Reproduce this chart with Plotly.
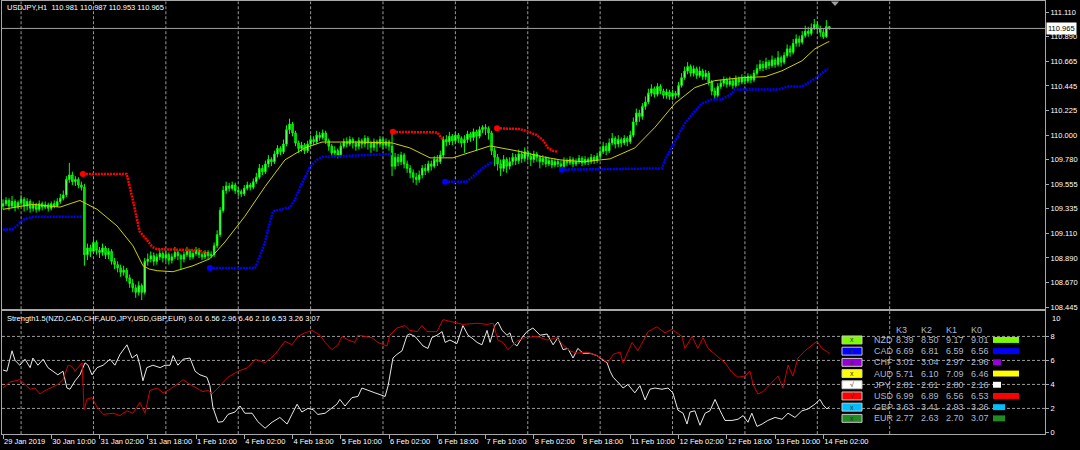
import plotly.graph_objects as go

W, H = 1080, 450
FONT = "Liberation Sans"

# ---------------- price data (H1 bars, index 0 = 29 Jan 2019 18:00) ----------------
symbol_label = "USDJPY,H1"
first_open = 109.36
closes = [
    109.38, 109.41, 109.36, 109.40, 109.35, 109.39, 109.42, 109.36, 109.40, 109.34,
    109.37, 109.33, 109.38, 109.35, 109.37, 109.34, 109.38, 109.36, 109.40, 109.43,
    109.46, 109.60, 109.64, 109.58, 109.60, 109.55, 109.53, 108.92, 108.98, 108.95,
    109.03, 108.96, 108.94, 108.98, 108.92, 108.95, 108.86, 108.83, 108.80, 108.76,
    108.78, 108.71, 108.66, 108.62, 108.58, 108.64, 108.58, 108.86, 108.88, 108.91,
    108.86, 108.90, 108.93, 108.89, 108.92, 108.87, 108.90, 108.94, 108.91, 108.88,
    108.92, 108.95, 108.90, 108.93, 108.96, 108.92, 108.90, 108.94, 108.91, 108.92,
    109.00, 109.10, 109.32, 109.50, 109.54, 109.52, 109.55, 109.50, 109.49, 109.47,
    109.52, 109.55, 109.53, 109.58, 109.62, 109.70, 109.67, 109.74, 109.78, 109.76,
    109.83, 109.88, 109.85, 109.92, 110.05, 110.10, 110.02, 109.93, 109.88, 109.91,
    109.86, 109.92, 109.96, 109.94, 110.00, 109.98, 110.02, 109.95, 109.90, 109.84,
    109.86, 109.82, 109.90, 109.94, 109.92, 109.96, 109.93, 109.90, 109.95, 109.92,
    109.97, 109.93, 109.89, 109.94, 109.92, 109.96, 109.91, 109.94, 109.90, 109.72,
    109.80, 109.76, 109.82, 109.74, 109.70, 109.66, 109.62, 109.60, 109.64, 109.70,
    109.68, 109.74, 109.72, 109.78, 109.76, 109.82, 109.96, 109.94, 109.99, 109.95,
    110.00, 109.97, 109.93, 109.96, 110.01, 109.98, 110.03, 109.99, 110.05, 110.07,
    110.06, 110.02, 109.86, 109.80, 109.74, 109.70, 109.78, 109.72, 109.76, 109.80,
    109.77, 109.83, 109.79, 109.85, 109.81, 109.78, 109.83, 109.80, 109.76, 109.79,
    109.74, 109.77, 109.73, 109.76, 109.74, 109.72, 109.77, 109.75, 109.78, 109.74,
    109.76, 109.79, 109.75, 109.78, 109.76, 109.80, 109.77, 109.81, 109.85, 109.90,
    109.86, 109.93, 109.97, 109.92, 109.96, 109.93, 109.97, 109.94, 110.00, 110.12,
    110.20, 110.17, 110.26, 110.30, 110.38, 110.42, 110.37, 110.44, 110.40, 110.36,
    110.39, 110.35, 110.38, 110.36, 110.45, 110.52, 110.58, 110.62, 110.56, 110.60,
    110.54, 110.58, 110.53, 110.56, 110.48, 110.40, 110.36, 110.44, 110.47, 110.50,
    110.46, 110.49, 110.45, 110.51, 110.48, 110.52, 110.49, 110.53, 110.50, 110.56,
    110.60, 110.64, 110.61, 110.66, 110.63, 110.68, 110.64, 110.70, 110.66, 110.72,
    110.78, 110.75, 110.83, 110.87, 110.84, 110.90, 110.94, 110.92, 110.97, 111.00,
    110.96, 110.93, 110.89, 110.981, 110.965,
]
highs = [
    109.42, 109.44, 109.43, 109.45, 109.42, 109.41, 109.46, 109.44, 109.43, 109.42,
    109.40, 109.39, 109.41, 109.40, 109.40, 109.39, 109.40, 109.41, 109.43, 109.47,
    109.50, 109.63, 109.75, 109.67, 109.63, 109.62, 109.58, 109.56, 109.02, 109.01,
    109.06, 109.05, 108.99, 109.02, 109.00, 108.98, 108.97, 108.89, 108.86, 108.83,
    108.82, 108.80, 108.74, 108.70, 108.65, 108.68, 108.66, 108.89, 108.93, 108.95,
    108.94, 108.93, 108.97, 108.95, 108.96, 108.94, 108.93, 108.99, 108.96, 108.93,
    108.95, 108.99, 108.97, 108.96, 108.99, 108.98, 108.94, 108.96, 108.96, 108.95,
    109.03, 109.14, 109.35, 109.54, 109.58, 109.57, 109.58, 109.57, 109.53, 109.51,
    109.55, 109.58, 109.57, 109.61, 109.66, 109.74, 109.73, 109.77, 109.82, 109.80,
    109.86, 109.91, 109.90, 109.96, 110.09, 110.15, 110.12, 110.04, 109.95, 109.94,
    109.93, 109.95, 110.00, 109.99, 110.04, 110.03, 110.05, 110.04, 109.97, 109.92,
    109.90, 109.88, 109.93, 109.97, 109.98, 109.99, 109.98, 109.95, 109.98, 109.97,
    110.00, 109.99, 109.95, 109.97, 109.96, 109.99, 109.98, 109.97, 109.96, 110.03,
    109.84, 109.83, 109.85, 109.84, 109.77, 109.73, 109.69, 109.66, 109.68, 109.73,
    109.74, 109.77, 109.77, 109.81, 109.82, 109.86, 109.99, 110.00, 110.03, 110.01,
    110.03, 110.02, 109.99, 110.00, 110.04, 110.03, 110.06, 110.05, 110.08, 110.09,
    110.10, 110.08, 110.04, 109.89, 109.83, 109.78, 109.82, 109.80, 109.80, 109.84,
    109.83, 109.87, 109.86, 109.89, 109.87, 109.84, 109.86, 109.85, 109.82, 109.82,
    109.81, 109.80, 109.79, 109.79, 109.78, 109.77, 109.80, 109.79, 109.81, 109.80,
    109.79, 109.82, 109.81, 109.81, 109.80, 109.83, 109.82, 109.84, 109.89, 109.94,
    109.93, 109.97, 110.02, 109.99, 110.00, 109.98, 110.00, 109.99, 110.04, 110.16,
    110.24, 110.23, 110.29, 110.35, 110.42, 110.46, 110.44, 110.47, 110.46, 110.42,
    110.42, 110.41, 110.41, 110.40, 110.48, 110.56, 110.62, 110.66, 110.64, 110.63,
    110.62, 110.62, 110.60, 110.59, 110.58, 110.50, 110.43, 110.47, 110.50, 110.53,
    110.52, 110.53, 110.51, 110.54, 110.53, 110.55, 110.54, 110.56, 110.55, 110.59,
    110.64, 110.68, 110.67, 110.70, 110.68, 110.72, 110.70, 110.76, 110.72, 110.75,
    110.82, 110.81, 110.87, 110.91, 110.90, 110.94, 110.99, 110.98, 111.01, 111.05,
    111.03, 110.99, 110.96, 111.04, 110.987,
]
lows = [
    109.33, 109.36, 109.32, 109.34, 109.31, 109.33, 109.36, 109.31, 109.32, 109.30,
    109.31, 109.30, 109.31, 109.32, 109.33, 109.31, 109.32, 109.34, 109.35, 109.38,
    109.41, 109.44, 109.57, 109.55, 109.54, 109.52, 109.50, 108.82, 108.87, 108.90,
    108.93, 108.92, 108.89, 108.91, 108.88, 108.88, 108.83, 108.79, 108.76, 108.72,
    108.73, 108.68, 108.62, 108.58, 108.53, 108.55, 108.51, 108.56, 108.82, 108.85,
    108.82, 108.83, 108.87, 108.85, 108.86, 108.83, 108.84, 108.88, 108.87, 108.78,
    108.85, 108.90, 108.87, 108.88, 108.91, 108.89, 108.87, 108.88, 108.88, 108.89,
    108.90, 108.98, 109.08, 109.30, 109.47, 109.49, 109.50, 109.47, 109.45, 109.44,
    109.45, 109.50, 109.50, 109.51, 109.56, 109.60, 109.64, 109.65, 109.71, 109.72,
    109.74, 109.80, 109.82, 109.83, 109.90, 110.01, 109.99, 109.90, 109.84, 109.85,
    109.83, 109.84, 109.90, 109.91, 109.92, 109.95, 109.96, 109.92, 109.86, 109.80,
    109.80, 109.79, 109.80, 109.88, 109.89, 109.90, 109.88, 109.86, 109.87, 109.88,
    109.89, 109.87, 109.84, 109.86, 109.85, 109.89, 109.87, 109.88, 109.86, 109.63,
    109.69, 109.72, 109.73, 109.70, 109.66, 109.61, 109.57, 109.55, 109.57, 109.61,
    109.64, 109.66, 109.68, 109.70, 109.72, 109.74, 109.80, 109.90, 109.91, 109.91,
    109.92, 109.93, 109.89, 109.84, 109.93, 109.94, 109.95, 109.86, 109.97, 110.02,
    110.00, 109.96, 109.82, 109.72, 109.68, 109.63, 109.67, 109.66, 109.69, 109.73,
    109.73, 109.74, 109.75, 109.76, 109.77, 109.72, 109.75, 109.76, 109.70, 109.73,
    109.71, 109.72, 109.70, 109.71, 109.71, 109.69, 109.70, 109.72, 109.73, 109.71,
    109.72, 109.74, 109.72, 109.73, 109.73, 109.74, 109.74, 109.75, 109.79, 109.83,
    109.82, 109.84, 109.91, 109.88, 109.89, 109.89, 109.91, 109.90, 109.92, 109.98,
    110.09, 110.12, 110.14, 110.23, 110.28, 110.35, 110.34, 110.35, 110.37, 110.33,
    110.33, 110.32, 110.32, 110.33, 110.34, 110.43, 110.50, 110.55, 110.53, 110.53,
    110.51, 110.52, 110.50, 110.50, 110.45, 110.36, 110.33, 110.34, 110.42, 110.44,
    110.43, 110.44, 110.42, 110.43, 110.45, 110.46, 110.46, 110.47, 110.47, 110.48,
    110.54, 110.58, 110.58, 110.59, 110.60, 110.61, 110.61, 110.62, 110.62, 110.64,
    110.70, 110.71, 110.73, 110.80, 110.80, 110.82, 110.88, 110.89, 110.90, 110.95,
    110.92, 110.89, 110.87, 110.88, 110.953,
]

# time axis labels, one every 16 bars
time_labels = ["29 Jan 2019", "30 Jan 10:00", "31 Jan 02:00", "31 Jan 18:00", "1 Feb 10:00",
               "4 Feb 02:00", "4 Feb 18:00", "5 Feb 10:00", "6 Feb 02:00", "6 Feb 18:00",
               "7 Feb 10:00", "8 Feb 02:00", "8 Feb 18:00", "11 Feb 10:00", "12 Feb 02:00",
               "12 Feb 18:00", "13 Feb 10:00", "14 Feb 02:00"]
label_every = 16
day_start_bars = [6, 30, 54, 78, 102, 126, 150, 174, 198, 222, 246, 270, 294]

# moving average (yellow)
ma_bar = [0, 10, 18.9, 25.5, 31.2, 37.8, 43.1, 46.4, 48.5, 51.1, 56.4, 63, 68.6, 73.6, 80.2, 86.9,
          93.5, 100.1, 105.8, 116.7, 129, 134.9, 141.6, 149.2, 161.5, 170.4, 179, 184.7, 192.3,
          201.3, 209.5, 216.2, 222.8, 229.4, 236, 245, 252.7, 258.3, 264.9, 269.2, 273.5, 274]
ma_price = [109.33, 109.375, 109.35, 109.41, 109.33, 109.18, 109.0, 108.82, 108.79, 108.775, 108.766,
            108.82, 108.883, 109.035, 109.267, 109.536, 109.777, 109.885, 109.938, 109.938, 109.93,
            109.885, 109.795, 109.795, 109.903, 109.858, 109.804, 109.777, 109.76, 109.786, 109.885,
            110.072, 110.287, 110.43, 110.493, 110.52, 110.529, 110.582, 110.672, 110.78, 110.842, 110.845]

# trailing bands: red above price, blue below price
red1_bar = [26.5, 41, 43, 45.3, 47.5, 49.5, 51, 65, 67.5]
red1_price = [109.65, 109.65, 109.42, 109.13, 109.06, 108.99, 108.97, 108.96, 108.93]
red2_bar = [129.3, 144, 145.7]
red2_price = [110.03, 110.025, 109.965]
red3_bar = [163.8, 171.4, 173.7, 177, 179, 180.7, 182.4, 184]
red3_price = [110.063, 110.055, 110.037, 110.0, 109.956, 109.885, 109.858, 109.85]
blue1_bar = [-1, 3.3, 5, 6.6, 10, 26.2]
blue1_price = [109.145, 109.15, 109.19, 109.235, 109.263, 109.263]
blue2_bar = [68.6, 83.6, 85.2, 86.9, 88.5, 89.5, 95.2, 96.8, 98.5, 100.1, 101.8, 104.1, 105.8, 129]
blue2_price = [108.80, 108.80, 108.91, 109.035, 109.214, 109.312, 109.348, 109.42, 109.527,
               109.625, 109.715, 109.777, 109.804, 109.83]
blue3_bar = [146.6, 153.8, 157.2, 160.5, 162.5]
blue3_price = [109.58, 109.58, 109.66, 109.733, 109.76]
blue4_bar = [185.3, 197, 218.5, 219.5, 221.8, 223.8, 226.1, 228.8, 231.8, 235.1, 238.4, 241.7,
             242.7, 257, 260.3, 264.9, 269.2, 273.5]
blue4_price = [109.688, 109.69, 109.70, 109.777, 109.894, 109.983, 110.108, 110.198, 110.287,
               110.323, 110.323, 110.377, 110.412, 110.412, 110.44, 110.44, 110.51, 110.60]

# strength indicator lines
jpy_bar = [0, 1.3, 3.0, 4.0, 5.6, 7.3, 9.0, 9.9, 11.6, 13.3,
           14.9, 16.6, 18.2, 19.9, 21.2, 22.2, 23.9, 25.5, 27.2, 28.2,
           29.5, 31.2, 33.2, 35.5, 37.1, 38.8, 41.1, 42.8, 44.4, 45.4,
           46.4, 47.7, 49.7, 52.1, 53.7, 55.4, 56.4, 58.0, 59.7, 62.0,
           63.7, 65.3, 67.6, 68.6, 69.6, 71.3, 72.9, 74.6, 76.9, 78.6,
           80.2, 82.6, 84.5, 86.9, 89.2, 91.8, 94.2, 95.8, 97.5, 99.1,
           101.1, 102.8, 104.4, 106.8, 109.1, 110.7, 111.7, 113.4, 115.7, 117.7,
           119.0, 121.0, 123.3, 126.7, 127.7, 129.3, 130.6, 132.3, 134.0, 134.9,
           136.6, 139.3, 140.9, 142.2, 143.9, 145.6, 146.6, 148.2, 150.5, 152.5,
           154.2, 155.8, 157.2, 158.8, 160.5, 161.5, 163.1, 164.1, 165.5, 167.1,
           168.1, 169.1, 170.4, 172.1, 173.7, 175.7, 178.1, 180.4, 182.4, 184.0,
           185.7, 187.3, 189.0, 190.6, 192.3, 194.6, 197.0, 198.6, 200.3, 201.3,
           202.3, 204.6, 205.6, 207.2, 209.5, 211.2, 212.9, 214.5, 216.2, 218.5,
           220.5, 222.1, 223.8, 225.5, 226.8, 227.8, 229.4, 231.1, 232.8, 234.4,
           236.1, 237.7, 239.4, 241.7, 243.7, 245.4, 247.0, 248.3, 250.0, 251.7,
           253.6, 256.0, 258.3, 260.3, 262.6, 264.9, 266.9, 269.2, 270.9, 271.9,
           273.2, 274.0]
jpy_val = [5.2, 5.1, 6.8, 6.0, 5.6, 6.1, 5.4, 6.2, 5.6, 6.1,
           5.4, 5.1, 4.8, 5.1, 3.7, 3.6, 4.3, 4.8, 5.8, 5.6,
           4.8, 5.4, 5.6, 6.1, 5.6, 6.5, 7.3, 6.2, 6.5, 5.6,
           4.3, 5.4, 5.6, 5.4, 5.6, 5.6, 6.4, 5.6, 6.1, 6.2,
           5.1, 4.8, 4.6, 3.9, 2.1, 0.85, 0.9, 1.5, 1.7, 2.2,
           1.6, 1.6, 0.9, 0.35, 0.85, 1.25, 0.7, 1.5, 2.35, 1.7,
           2.0, 1.9, 1.5, 1.6, 2.0, 2.35, 2.75, 2.2, 2.9, 3.0,
           3.7, 3.5, 3.3, 3.0, 3.9, 6.2, 6.5, 6.8, 8.1, 8.2,
           8.0, 7.2, 7.0, 7.9, 8.1, 8.4, 7.5, 7.7, 7.4, 8.9,
           8.1, 7.8, 7.5, 7.3, 8.5, 7.5, 8.9, 9.2, 8.5, 8.1,
           8.3, 7.5, 7.2, 7.9, 8.4, 8.7, 8.1, 8.2, 7.3, 7.9,
           6.9, 7.0, 6.2, 7.0, 6.6, 6.6, 6.4, 6.1, 5.8, 5.1,
           4.6, 4.0, 3.7, 4.0, 3.3, 3.9, 2.7, 3.6, 3.7, 3.6,
           3.7, 3.3, 1.85, 1.6, 0.7, 1.7, 1.8, 0.6, 1.6, 1.8,
           2.75, 1.85, 1.0, 1.0, 1.1, 1.4, 0.85, 1.6, 0.5, 0.7,
           1.0, 1.25, 1.1, 1.6, 1.25, 1.8, 1.95, 2.35, 2.75, 2.3,
           1.95, 2.16]
usd_bar = [0, 2.3, 5.6, 7.3, 9.0, 10.6, 12.3, 13.3, 15.6, 18.2,
           19.9, 21.6, 22.9, 23.9, 26.2, 26.9, 27.9, 29.5, 31.2, 33.2,
           36.5, 38.8, 41.1, 43.1, 45.4, 47.1, 48.7, 51.1, 53.1, 55.4,
           57.7, 59.7, 62.0, 64.3, 66.3, 68.0, 69.3, 71.3, 74.6, 77.9,
           81.2, 83.6, 86.9, 90.2, 93.5, 95.8, 97.8, 100.1, 102.5, 105.1,
           106.8, 109.1, 111.1, 112.4, 114.4, 116.7, 117.7, 120.0, 122.3, 124.3,
           127.3, 128.3, 130.6, 133.3, 134.9, 137.3, 138.9, 140.6, 143.9, 145.9,
           149.2, 152.5, 157.2, 160.5, 162.5, 164.1, 165.8, 167.4, 170.4, 173.1,
           177.1, 180.4, 183.7, 185.7, 188.0, 190.3, 193.6, 197.0, 198.9, 200.6,
           202.3, 204.6, 205.6, 208.6, 210.5, 213.9, 216.8, 219.5, 221.8, 223.5,
           225.1, 226.1, 228.5, 230.4, 232.1, 233.8, 236.1, 239.4, 241.7, 243.7,
           246.0, 247.7, 248.7, 250.3, 252.0, 255.0, 257.0, 258.6, 260.3, 261.9,
           263.6, 265.9, 268.2, 269.9, 271.5, 273.5, 274.0]
usd_val = [3.7, 4.2, 4.4, 4.0, 3.6, 3.7, 3.2, 3.4, 3.7, 4.0,
           4.4, 5.6, 5.5, 5.1, 5.8, 1.9, 2.8, 2.9, 2.1, 1.5,
           1.6, 1.4, 1.8, 1.6, 2.5, 1.6, 3.5, 3.7, 3.3, 3.6,
           4.0, 4.4, 4.0, 3.7, 3.4, 3.5, 3.2, 3.7, 4.6, 5.1,
           5.4, 6.1, 5.8, 6.5, 7.6, 7.3, 8.0, 8.3, 8.5, 8.1,
           7.5, 6.9, 7.3, 8.0, 7.7, 7.5, 8.1, 8.0, 7.9, 7.5,
           7.2, 8.1, 8.7, 8.9, 8.5, 8.4, 8.9, 8.4, 8.4, 9.4,
           9.2, 9.0, 9.1, 9.0, 9.1, 7.7, 7.5, 6.9, 7.6, 7.9,
           8.0, 7.7, 7.9, 7.3, 6.8, 6.6, 6.7, 6.4, 6.1, 5.8,
           6.5, 6.7, 5.8, 7.5, 6.8, 8.4, 8.8, 8.3, 8.6, 8.3,
           8.0, 7.0, 8.0, 7.0, 7.9, 7.0, 6.5, 5.8, 5.0, 4.6,
           4.7, 5.1, 4.0, 3.2, 3.4, 4.2, 4.7, 3.7, 5.6, 4.7,
           6.2, 6.8, 7.3, 7.6, 7.0, 6.7, 6.53]

# strength table
currencies = ["NZD", "CAD", "CHF", "AUD", "JPY", "USD", "GBP", "EUR"]
k3 = [8.39, 6.69, 3.01, 5.71, 2.81, 6.99, 3.63, 2.77]
k2 = [8.50, 6.81, 3.04, 6.10, 2.61, 6.89, 3.41, 2.63]
k1 = [9.17, 6.59, 2.97, 7.09, 2.80, 6.56, 2.93, 2.70]
k0 = [9.01, 6.56, 2.96, 6.46, 2.16, 6.53, 3.26, 3.07]
currency_colors = ["#7CFC00", "#0000FF", "#9400D3", "#FFFF00", "#FFFFFF", "#FF0000", "#00BFFF", "#228B22"]
legend_bar_px = [26, 26, 8, 26, 8, 26, 12, 12]
box_marks = ["x", "x", "x", "x", "\u221a", "\u221a", "x", "x"]

price_ticks = [111.110, 110.890, 110.665, 110.445, 110.225, 110.000, 109.780,
               109.555, 109.335, 109.110, 108.890, 108.670, 108.445]
strength_ticks = [0, 2, 4, 6, 8]
strength_top_label = "10"
strength_levels = [2, 4, 6, 8]

# ---------------- derived ----------------
opens = [first_open] + closes[:-1]
bar_idx = list(range(len(closes)))
highs = [max(h, o, c) for h, o, c in zip(highs, opens, closes)]
lows = [min(l, o, c) for l, o, c in zip(lows, opens, closes)]

BORDER = "#A8A8A8"
GRID = "#9A9A9A"
TABLE_TXT = "#A9B9CC"


def X(px):
    return px / W


def Y(py):
    return 1 - py / H


x_dom = [X(2), X(1045)]
x_rng = [-0.33, 345.5]

fig = go.Figure()

fig.add_trace(go.Candlestick(
    x=bar_idx, open=opens, high=highs, low=lows, close=closes,
    increasing=dict(line=dict(color="#00FF00", width=1), fillcolor="#B0FFB0"),
    decreasing=dict(line=dict(color="#00FF00", width=1), fillcolor="#00C000"),
    whiskerwidth=0, xaxis="x", yaxis="y", hoverinfo="skip", showlegend=False))

fig.add_trace(go.Scatter(x=ma_bar, y=ma_price, mode="lines", xaxis="x", yaxis="y",
                         line=dict(color="#D0D000", width=1), hoverinfo="skip"))

for bx, by, col, start in [(red1_bar, red1_price, "#FF0000", True), (red2_bar, red2_price, "#FF0000", True),
                           (red3_bar, red3_price, "#FF0000", True), (blue1_bar, blue1_price, "#0000FF", False),
                           (blue2_bar, blue2_price, "#0000FF", True), (blue3_bar, blue3_price, "#0000FF", True),
                           (blue4_bar, blue4_price, "#0000FF", True)]:
    fig.add_trace(go.Scatter(x=bx, y=by, mode="lines", xaxis="x", yaxis="y",
                             line=dict(color=col, width=2.5, dash="2px,1px"), hoverinfo="skip"))
    if start:
        fig.add_trace(go.Scatter(x=bx[:1], y=by[:1], mode="markers", xaxis="x", yaxis="y",
                                 marker=dict(color=col, size=6), hoverinfo="skip"))

fig.add_trace(go.Scatter(x=jpy_bar, y=jpy_val, mode="lines", xaxis="x2", yaxis="y2",
                         line=dict(color="#E8E8E8", width=1), hoverinfo="skip"))
fig.add_trace(go.Scatter(x=usd_bar, y=usd_val, mode="lines", xaxis="x2", yaxis="y2",
                         line=dict(color="#D00000", width=1), hoverinfo="skip"))

tickfont = dict(family=FONT, size=7.5, color="#FFFFFF")

fig.update_layout(
    width=W, height=H, margin=dict(l=0, r=0, t=0, b=0),
    paper_bgcolor="#000000", plot_bgcolor="#000000", showlegend=False,
    xaxis=dict(domain=x_dom, range=x_rng, anchor="y", showticklabels=False, ticks="",
               showgrid=False, zeroline=False, showline=True, mirror=True, linecolor=BORDER,
               linewidth=1, rangeslider=dict(visible=False), fixedrange=True),
    yaxis=dict(domain=[Y(311), Y(0.5)], range=[108.4267, 111.2084], anchor="x", side="right",
               tickvals=price_ticks, ticktext=[f"{v:.3f}" for v in price_ticks],
               ticks="outside", ticklen=3, tickcolor=BORDER, tickfont=tickfont,
               showgrid=False, zeroline=False, showline=True, mirror=True, linecolor=BORDER),
    xaxis2=dict(domain=x_dom, range=x_rng, anchor="y2",
                tickvals=[k * label_every for k in range(len(time_labels))], ticktext=time_labels,
                ticks="outside", ticklen=4, tickcolor=BORDER, tickfont=tickfont, tickangle=0,
                ticklabelposition="outside right",
                showgrid=False, zeroline=False, showline=True, mirror=True, linecolor=BORDER),
    yaxis2=dict(domain=[Y(437), Y(313)], range=[-0.14, 10.1], anchor="x2", side="right",
                tickvals=strength_ticks, ticktext=[str(v) for v in strength_ticks],
                ticks="outside", ticklen=3, tickcolor=BORDER, tickfont=tickfont,
                showgrid=False, zeroline=False, showline=True, mirror=True, linecolor=BORDER),
)

shapes = []
for d in day_start_bars:
    for xr, yr in [("x", "y domain"), ("x2", "y2 domain")]:
        shapes.append(dict(type="line", xref=xr, yref=yr, x0=d, x1=d, y0=0, y1=1, layer="below",
                           line=dict(color=GRID, width=1, dash="3px,2px")))
for lv in strength_levels:
    shapes.append(dict(type="line", xref="x2 domain", yref="y2", x0=0, x1=1, y0=lv, y1=lv, layer="below",
                       line=dict(color=GRID, width=1, dash="3px,2px")))
# bid line
shapes.append(dict(type="line", xref="x domain", yref="y", x0=0, x1=1, y0=closes[-1], y1=closes[-1],
                   line=dict(color="#A0A0A0", width=1)))
# chart-shift marker
shapes.append(dict(type="path", xref="paper", yref="paper",
                   path=f"M {X(831)} {Y(0.5)} L {X(839)} {Y(0.5)} L {X(835)} {Y(5)} Z",
                   fillcolor="#A0A0A0", line=dict(width=0)))

annotations = [
    dict(xref="paper", yref="paper", x=X(5), y=Y(7), xanchor="left", yanchor="middle", showarrow=False,
         text=f"{symbol_label}  {opens[-1]:.3f} {highs[-1]:.3f} {lows[-1]:.3f} {closes[-1]:.3f}",
         font=dict(family=FONT, size=7.5, color="#FFFFFF")),
    dict(xref="paper", yref="paper", x=X(5), y=Y(320), xanchor="left", yanchor="middle", showarrow=False,
         text="Strength1.5(" + ",".join(currencies) + ") " + " ".join(f"{v:.2f}" for v in k0),
         font=dict(family=FONT, size=7.5, color="#FFFFFF")),
    dict(xref="paper", yref="y", x=X(1046), y=closes[-1], xanchor="left", yanchor="middle", showarrow=False,
         text=f"{closes[-1]:.3f}", bgcolor="#FFFFFF", borderpad=1,
         font=dict(family=FONT, size=7.5, color="#000000")),
    dict(xref="paper", yref="paper", x=X(1050), y=Y(320), xanchor="left", yanchor="middle", showarrow=False,
         text=strength_top_label, font=tickfont),
]

# strength table
col_x = [894, 919, 944, 969]
for cx, name in zip(col_x, ["K3", "K2", "K1", "K0"]):
    annotations.append(dict(xref="paper", yref="paper", x=X(cx), y=Y(332), xanchor="left", yanchor="middle",
                            showarrow=False, text=name, font=dict(family=FONT, size=9, color=TABLE_TXT)))
row_y0, row_dy = 342, 11.3
for r, cur in enumerate(currencies):
    yc = row_y0 + r * row_dy
    shapes.append(dict(type="rect", xref="paper", yref="paper", x0=X(842), x1=X(862), y0=Y(yc + 4), y1=Y(yc - 4),
                       fillcolor=currency_colors[r], line=dict(color="#C8C8C8", width=1)))
    annotations.append(dict(xref="paper", yref="paper", x=X(852), y=Y(yc), xanchor="center", yanchor="middle",
                            showarrow=False, text=box_marks[r], font=dict(family=FONT, size=7, color="#303030")))
    shapes.append(dict(type="rect", xref="paper", yref="paper", x0=X(993), x1=X(993 + legend_bar_px[r]),
                       y0=Y(yc + 3), y1=Y(yc - 3), fillcolor=currency_colors[r], line=dict(width=0)))
    annotations.append(dict(xref="paper", yref="paper", x=X(872), y=Y(yc), xanchor="left", yanchor="middle",
                            showarrow=False, text=cur, font=dict(family=FONT, size=9, color=TABLE_TXT)))
    for cx, vals in zip(col_x, [k3, k2, k1, k0]):
        annotations.append(dict(xref="paper", yref="paper", x=X(cx), y=Y(yc), xanchor="left", yanchor="middle",
                                showarrow=False, text=f"{vals[r]:.2f}",
                                font=dict(family=FONT, size=9, color=TABLE_TXT)))

fig.update_layout(shapes=shapes, annotations=annotations)

fig.write_html("out.html", config={"displayModeBar": False},
               post_script="document.body.style.margin='0px';document.body.style.padding='0px';")
